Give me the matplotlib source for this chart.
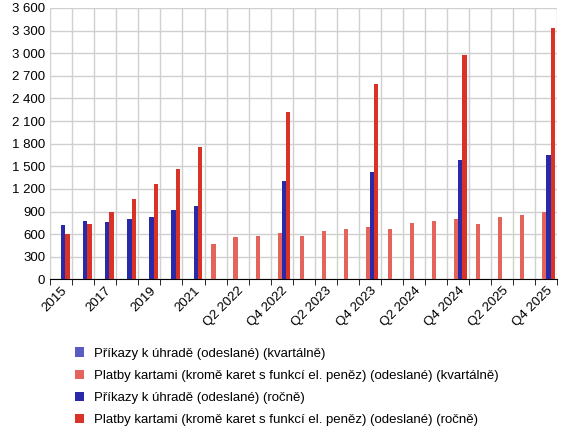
import matplotlib
matplotlib.use("Agg")
import matplotlib.pyplot as plt
import numpy as np

plt.rcParams['font.family'] = ['Liberation Sans', 'DejaVu Sans']

cats = [str(y) for y in range(2015, 2022)] + [f"Q{q} {y}" for y in range(2022, 2026) for q in range(1, 5)]
nan = np.nan
q_orders = [nan]*23
q_cards = [nan]*7 + [470, 560, 580, 610, 580, 640, 670, 690, 670, 750, 770, 800, 740, 830, 860, 890]
a_orders = [720, 770, 760, 800, 830, 920, 980] + [nan, nan, nan, 1310, nan, nan, nan, 1420, nan, nan, nan, 1590, nan, nan, nan, 1650]
a_cards = [600, 740, 890, 1070, 1270, 1460, 1760] + [nan, nan, nan, 2220, nan, nan, nan, 2590, nan, nan, nan, 2980, nan, nan, nan, 3330]
labels = ["Příkazy k úhradě (odeslané) (kvartálně)",
          "Platby kartami (kromě karet s funkcí el. peněz) (odeslané) (kvartálně)",
          "Příkazy k úhradě (odeslané) (ročně)",
          "Platby kartami (kromě karet s funkcí el. peněz) (odeslané) (ročně)"]
colors = ["#5b5bc4", "#e4635a", "#2a2aa8", "#d93226"]

fig = plt.figure(figsize=(5.7, 4.38), dpi=100)
ax = fig.add_axes([0.088, 0.362, 0.89, 0.62])
x = np.arange(len(cats))
w = 0.19
series = [q_orders, q_cards, a_orders, a_cards]
for i, (s, c, l) in enumerate(zip(series, colors, labels)):
    ax.bar(x + (i - 1.5) * w, s, w, color=c, label=l, zorder=3)
ax.set_xlim(-0.5, len(cats) - 0.5)
ax.set_ylim(0, 3600)
ax.set_yticks(range(0, 3601, 300))
ax.set_yticklabels([f"{v:,}".replace(",", " ") for v in range(0, 3601, 300)], fontsize=9.5)
ax.set_xticks(x[::2])
ax.set_xticklabels(cats[::2], rotation=45, ha="right", rotation_mode="anchor", fontsize=9.5)
ax.set_xticks(np.arange(-0.5, len(cats)), minor=True)
ax.tick_params(axis="x", which="major", length=0)
ax.tick_params(axis="x", which="minor", length=4)
ax.tick_params(axis="y", length=0)
ax.grid(True, which="minor", axis="x", color="#d0d0d0", lw=1, zorder=0)
ax.grid(True, which="major", axis="y", color="#d0d0d0", lw=1, zorder=0)
for s in ["top", "right", "left"]:
    ax.spines[s].set_visible(False)
ax.spines["bottom"].set_color("black")
fig.legend(loc="lower left", bbox_to_anchor=(0.11, 0.0), frameon=False, fontsize=9.5,
           handlelength=0.7, handleheight=0.7, labelspacing=0.75)
fig.savefig("out.png")
